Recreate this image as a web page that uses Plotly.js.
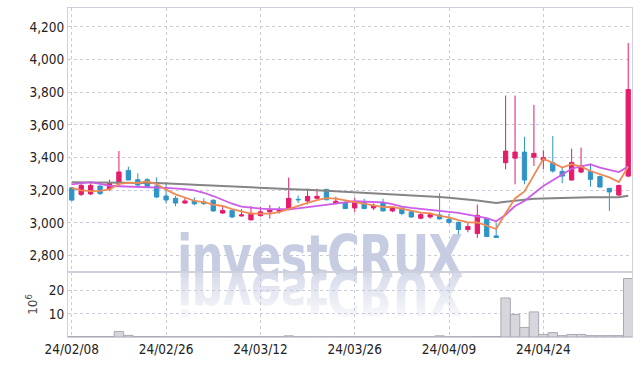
<!DOCTYPE html>
<html><head><meta charset="utf-8">
<script src="https://cdn.plot.ly/plotly-3.0.1.min.js"></script>
<style>
html,body{margin:0;padding:0;background:#fff;}
#wrap{position:relative;width:642px;height:366px;overflow:hidden;}
#chart{position:absolute;left:0;top:0;width:642px;height:366px;}
.wm{position:absolute;left:177px;font-family:"DejaVu Sans Condensed","Liberation Sans",sans-serif;font-weight:bold;font-size:58px;line-height:58px;color:#c6cde3;white-space:nowrap;letter-spacing:-1px;transform-origin:0 50%;}
#wm1{top:228px;transform:scaleX(0.86);}
#wm2{top:264px;transform:scaleX(0.86) scaleY(-1);color:#d7dbea;-webkit-mask-image:linear-gradient(to top,rgba(0,0,0,1) 15%,rgba(0,0,0,0.15) 95%);mask-image:linear-gradient(to top,rgba(0,0,0,1) 15%,rgba(0,0,0,0.15) 95%);}
</style></head>
<body>
<div id="wrap">
<div class="wm" id="wm1">investCRUX</div>
<div class="wm" id="wm2">investCRUX</div>
<div id="chart"></div>
</div>
<script>
const dates = ["24/02/08","24/02/13","24/02/14","24/02/15","24/02/16","24/02/19","24/02/20","24/02/21","24/02/22","24/02/23",
"24/02/26","24/02/27","24/02/28","24/02/29","24/03/04","24/03/05","24/03/06","24/03/07","24/03/08","24/03/11",
"24/03/12","24/03/13","24/03/14","24/03/15","24/03/18","24/03/19","24/03/20","24/03/21","24/03/22","24/03/25",
"24/03/26","24/03/27","24/03/28","24/03/29","24/04/01","24/04/02","24/04/03","24/04/04","24/04/05","24/04/08",
"24/04/09","24/04/11","24/04/12","24/04/15","24/04/16","24/04/17","24/04/18","24/04/19","24/04/22","24/04/23",
"24/04/24","24/04/25","24/04/26","24/04/29","24/04/30","24/05/02","24/05/03","24/05/07","24/05/08","24/05/09"];

const openP = [3215,3175,3178,3226,3208,3241,3322,3265,3265,3226,
3165,3151,3122,3135,3129,3139,3061,3076,3043,3019,
3045,3068,3072,3082,3145,3135,3151,3206,3120,3125,
3092,3131,3092,3125,3074,3090,3068,3029,3037,3049,
3023,3004,2960,2935,3027,2921,3369,3397,3434,3403,
3385,3369,3316,3263,3312,3316,3284,3212,3171,3287];
const highP = [3220,3240,3245,3230,3265,3440,3345,3304,3275,3280,
3250,3165,3157,3157,3151,3145,3110,3080,3084,3104,
3098,3110,3100,3278,3168,3210,3210,3208,3161,3137,
3155,3149,3120,3149,3102,3104,3078,3064,3064,3182,
3055,3008,3000,3113,3030,3000,3780,3780,3528,3723,
3446,3532,3345,3455,3461,3365,3290,3212,3234,4102];
const lowP = [3135,3165,3170,3171,3196,3230,3263,3226,3220,3152,
3120,3104,3118,3108,3110,3068,3055,3030,3039,3017,
3039,3027,3058,3078,3122,3114,3145,3137,3114,3085,
3068,3085,3078,3070,3066,3047,3031,3023,3027,3021,
2994,2931,2943,2909,2915,2908,3328,3237,3237,3349,
3328,3308,3243,3260,3304,3222,3218,3074,3166,3280];
const closeP = [3140,3230,3230,3180,3245,3312,3263,3232,3223,3159,
3141,3122,3135,3117,3119,3074,3076,3037,3049,3053,
3068,3080,3080,3151,3142,3163,3163,3143,3133,3088,
3127,3088,3108,3074,3096,3058,3037,3051,3051,3025,
3004,2960,2978,3047,2917,2911,3440,3434,3263,3426,
3400,3318,3287,3371,3349,3267,3220,3190,3230,3817];

const maShort = [3215,3200,3195,3197,3205,3239,3246,3246,3255,3238,
3204,3175,3156,3135,3127,3113,3104,3085,3071,3058,
3057,3057,3066,3086,3104,3123,3140,3152,3149,3138,
3131,3116,3109,3097,3099,3085,3075,3063,3059,3044,
3034,3018,3004,3003,2981,2963,3059,3150,3193,3295,
3393,3368,3339,3360,3345,3318,3299,3279,3251,3345];
const maMid = [3237,3245,3250,3240,3228,3225,3222,3220,3220,3217,
3215,3212,3207,3200,3185,3165,3140,3118,3100,3093,
3088,3085,3084,3084,3090,3098,3106,3114,3120,3126,
3133,3132,3129,3126,3115,3100,3092,3085,3080,3074,
3068,3062,3050,3040,3030,3010,3050,3104,3135,3180,
3226,3262,3298,3332,3346,3359,3339,3325,3312,3345];
const maLong = [3249,3249,3248,3248,3247,3247,3246,3246,3245,3244,
3243,3240,3237,3234,3231,3228,3226,3223,3220,3218,
3215,3213,3210,3208,3205,3203,3200,3198,3195,3193,
3190,3187,3184,3180,3177,3173,3170,3166,3163,3159,
3155,3150,3144,3138,3130,3123,3130,3137,3143,3148,
3150,3152,3154,3155,3156,3157,3157,3156,3158,3166];
const volume = [0.2,0.2,0.2,0.2,0.2,2.4,0.7,0.2,0.2,0.2,
0.1,0.1,0.1,0.1,0.1,0.1,0.1,0.1,0.1,0.1,
0.1,0.1,0.1,0.5,0.1,0.1,0.1,0.1,0.1,0.1,
0.1,0.1,0.1,0.1,0.1,0.1,0.1,0.1,0.1,0.5,
0.1,0.1,0.1,0.2,0.2,0.2,16.8,9.7,4.1,10.8,
1.1,1.9,0.6,1.1,1.1,0.6,0.6,0.6,0.6,25.2];

const tickDates = ["24/02/08","24/02/26","24/03/12","24/03/26","24/04/09","24/04/24"];
const priceTicks = [2800,3000,3200,3400,3600,3800,4000,4200];
const volTicks = [10,20];

const FONT = '"Liberation Sans Narrow","DejaVu Sans Condensed",sans-serif';
const GRID = '#c9cbdc';
const LINE = '#cfd0dc';

const traces = [
 {type:'bar', x:dates, y:volume, xaxis:'x', yaxis:'y',
  marker:{color:'#d6d6dc', line:{color:'#a9a9b2', width:1}}, hoverinfo:'skip'},
 {type:'scatter', mode:'lines', x:dates, y:maLong, xaxis:'x', yaxis:'y2',
  line:{color:'#858585', width:2}, hoverinfo:'skip'},
 {type:'scatter', mode:'lines', x:dates, y:maMid, xaxis:'x', yaxis:'y2',
  line:{color:'#cd5ce8', width:1.8}, hoverinfo:'skip'},
 {type:'scatter', mode:'lines', x:dates, y:maShort, xaxis:'x', yaxis:'y2',
  line:{color:'#ef8a55', width:1.8}, hoverinfo:'skip'},
 {type:'candlestick', x:dates, open:openP, high:highP, low:lowP, close:closeP,
  xaxis:'x', yaxis:'y2', whiskerwidth:0,
  increasing:{line:{color:'#e51c6c', width:1}, fillcolor:'#e51c6c'},
  decreasing:{line:{color:'#2f95c6', width:1}, fillcolor:'#2f95c6'},
  hoverinfo:'skip'}
];

const layout = {
 width:642, height:366,
 margin:{l:68, r:10, t:8, b:29},
 paper_bgcolor:'rgba(0,0,0,0)', plot_bgcolor:'rgba(0,0,0,0)',
 showlegend:false, bargap:0, boxgap:0.35,
 font:{family:FONT, size:13, color:'#2a2a2a'},
 xaxis:{type:'category', range:[-0.4, 59.4], tickvals:tickDates, ticktext:tickDates,
   showgrid:true, gridcolor:GRID, griddash:'dot', gridwidth:1,
   showline:true, linecolor:LINE, mirror:'all', ticks:'', zeroline:false,
   rangeslider:{visible:false}, tickfont:{family:FONT, size:13.5, color:'#222'}, fixedrange:true},
 yaxis:{domain:[0, 0.1976], range:[0, 28], tickvals:volTicks,
   showgrid:true, gridcolor:GRID, griddash:'dot', showline:true, linecolor:LINE, mirror:true,
   ticks:'', zeroline:false, tickfont:{family:FONT, size:13.5, color:'#222'},
   title:{text:'10<sup>6</sup>', font:{family:'DejaVu Sans, sans-serif', size:12, color:'#444'}, standoff:8}},
 yaxis2:{domain:[0.1976, 1], range:[2700, 4316], tickvals:priceTicks, tickformat:',',
   showgrid:true, gridcolor:GRID, griddash:'dot', showline:true, linecolor:LINE, mirror:true,
   ticks:'', zeroline:false, tickfont:{family:FONT, size:13.5, color:'#222'}}
};

Plotly.newPlot('chart', traces, layout, {staticPlot:true, displayModeBar:false});
</script>
</body></html>
